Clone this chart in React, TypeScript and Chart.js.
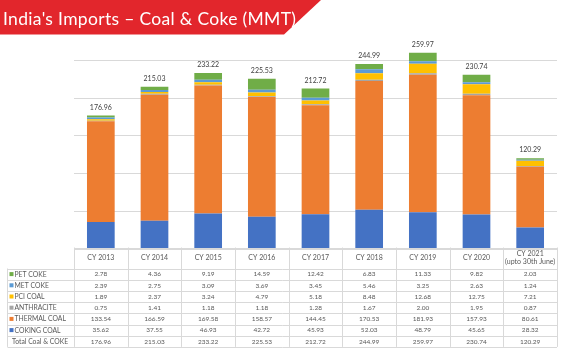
import React, { useEffect, useRef } from "react";
import { Chart, registerables } from "chart.js";
Chart.register(...registerables);

const categories = ["CY 2013", "CY 2014", "CY 2015", "CY 2016", "CY 2017", "CY 2018", "CY 2019", "CY 2020", "CY 2021"];
const categorySubLabels = ["", "", "", "", "", "", "", "", "(upto 30th June)"];

const cokingCoal = [35.62, 37.55, 46.93, 42.72, 45.93, 52.03, 48.79, 45.65, 28.32];
const thermalCoal = [133.54, 166.59, 169.58, 158.57, 144.45, 170.53, 181.93, 157.93, 80.61];
const anthracite = [0.75, 1.41, 1.18, 1.18, 1.28, 1.67, 2.0, 1.95, 0.87];
const pciCoal = [1.89, 2.37, 3.24, 4.79, 5.18, 8.48, 12.68, 12.75, 7.21];
const metCoke = [2.39, 2.75, 3.09, 3.69, 3.45, 5.46, 3.25, 2.63, 1.24];
const petCoke = [2.78, 4.36, 9.19, 14.59, 12.42, 6.83, 11.33, 9.82, 2.03];
const totals = [176.96, 215.03, 233.22, 225.53, 212.72, 244.99, 259.97, 230.74, 120.29];

const titleText = "India's Imports \u2013 Coal & Coke (MMT)";

const series = [
  { name: "COKING COAL", data: cokingCoal, color: "#4472C4" },
  { name: "THERMAL COAL", data: thermalCoal, color: "#ED7D31" },
  { name: "ANTHRACITE", data: anthracite, color: "#A5A5A5" },
  { name: "PCI COAL", data: pciCoal, color: "#FFC000" },
  { name: "MET COKE", data: metCoke, color: "#5B9BD5" },
  { name: "PET COKE", data: petCoke, color: "#70AD47" },
];

const FONT = "Lato, 'Open Sans', sans-serif";

const overlayPlugin = {
  id: "overlay",
  afterDraw(chart: any) {
    const ctx = chart.ctx as CanvasRenderingContext2D;
    const xs = chart.scales.x;
    const ys = chart.scales.y;
    const area = chart.chartArea;
    const colW = xs.getPixelForValue(1) - xs.getPixelForValue(0);
    const tableLeft = area.left;
    const tableRight = area.left + colW * categories.length;
    const labelLeft = 7.5;

    // total labels
    ctx.save();
    ctx.fillStyle = "#404040";
    ctx.font = `7px ${FONT}`;
    ctx.textAlign = "center";
    ctx.textBaseline = "middle";
    totals.forEach((t, i) => {
      const x = xs.getPixelForValue(i);
      const y = ys.getPixelForValue(t);
      ctx.fillText(t.toFixed(2), x, y - 8);
    });
    ctx.restore();

    // table
    const top = area.bottom - 1.5;
    const headerH = 21;
    const rowH = 11.2;
    const rows = [...series].reverse();
    const nRows = rows.length + 1;
    const bottom = top + headerH + rowH * nRows;

    ctx.save();
    ctx.strokeStyle = "#D9D9D9";
    ctx.lineWidth = 1;
    ctx.beginPath();
    ctx.moveTo(tableLeft, Math.round(top) + 0.5);
    ctx.lineTo(tableRight, Math.round(top) + 0.5);
    for (let r = 0; r <= nRows; r++) {
      const y = Math.round(top + headerH + r * rowH) + 0.5;
      ctx.moveTo(labelLeft, y);
      ctx.lineTo(tableRight, y);
    }
    for (let c = 0; c <= categories.length; c++) {
      const x = Math.round(tableLeft + c * colW) + 0.5;
      ctx.moveTo(x, top);
      ctx.lineTo(x, bottom);
    }
    ctx.moveTo(labelLeft, top + headerH);
    ctx.lineTo(labelLeft, bottom);
    ctx.stroke();

    ctx.fillStyle = "#595959";
    ctx.textAlign = "center";
    ctx.textBaseline = "middle";
    ctx.font = `7px ${FONT}`;
    categories.forEach((c, i) => {
      const x = xs.getPixelForValue(i);
      if (categorySubLabels[i]) {
        ctx.fillText(c, x, top + headerH / 2 - 4);
        ctx.fillText(categorySubLabels[i], x, top + headerH / 2 + 4);
      } else {
        ctx.fillText(c, x, top + headerH / 2);
      }
    });

    rows.forEach((s, r) => {
      const yc = top + headerH + r * rowH + rowH / 2;
      ctx.fillStyle = s.color;
      ctx.fillRect(9.5, yc - 2, 4, 4);
      ctx.fillStyle = "#595959";
      ctx.textAlign = "left";
      ctx.font = `6.8px ${FONT}`;
      ctx.fillText(s.name, 14.5, yc + 0.3);
      ctx.textAlign = "center";
      ctx.font = `6.5px ${FONT}`;
      s.data.forEach((v, i) => {
        ctx.fillText(v.toFixed(2), xs.getPixelForValue(i), yc + 0.3);
      });
    });
    {
      const yc = top + headerH + rows.length * rowH + rowH / 2;
      ctx.textAlign = "left";
      ctx.font = `6.8px ${FONT}`;
      ctx.fillText("Total Coal & COKE", 12, yc + 0.3);
      ctx.textAlign = "center";
      ctx.font = `6.5px ${FONT}`;
      totals.forEach((v, i) => {
        ctx.fillText(v.toFixed(2), xs.getPixelForValue(i), yc + 0.3);
      });
    }
    ctx.restore();

    // title banner
    ctx.save();
    ctx.fillStyle = "#E2262C";
    ctx.beginPath();
    ctx.moveTo(0, 0);
    ctx.lineTo(321, 0);
    ctx.lineTo(284, 34.5);
    ctx.lineTo(0, 34.5);
    ctx.closePath();
    ctx.fill();
    ctx.fillStyle = "#ffffff";
    ctx.font = `17.5px ${FONT}`;
    ctx.textAlign = "left";
    ctx.textBaseline = "alphabetic";
    const w = ctx.measureText(titleText).width;
    const target = 293;
    (ctx as any).letterSpacing = `${(target - w) / (titleText.length - 1)}px`;
    ctx.fillText(titleText, 3, 25);
    ctx.restore();
  },
};

export default function App() {
  const ref = useRef<HTMLCanvasElement | null>(null);
  useEffect(() => {
    document.body.style.margin = "0";
    const canvas = ref.current!;
    const chart = new Chart(canvas, {
      type: "bar",
      data: {
        labels: categories,
        datasets: series.map((s) => ({
          label: s.name,
          data: s.data,
          backgroundColor: s.color,
          borderWidth: 0,
          barPercentage: 0.516,
          categoryPercentage: 1,
        })),
      },
      options: {
        responsive: false,
        animation: false,
        layout: { padding: { left: 74, right: 4, top: 22.5, bottom: 107 } },
        plugins: { legend: { display: false }, tooltip: { enabled: false }, title: { display: false } },
        scales: {
          x: { stacked: true, display: false },
          y: {
            stacked: true,
            min: 0,
            max: 300,
            display: true,
            border: { display: false },
            ticks: { display: false, stepSize: 50 },
            grid: {
              drawTicks: false,
              color: (c: any) => (c.tick && c.tick.value === 300 ? "rgba(0,0,0,0)" : "#D9D9D9"),
            },
          },
        },
      },
      plugins: [overlayPlugin],
    });
    return () => chart.destroy();
  }, []);
  return (
    <div style={{ position: "absolute", left: 0, top: 0, width: 561, height: 356, background: "#fff" }}>
      <canvas ref={ref} width={561} height={356} style={{ width: 561, height: 356 }} />
    </div>
  );
}
